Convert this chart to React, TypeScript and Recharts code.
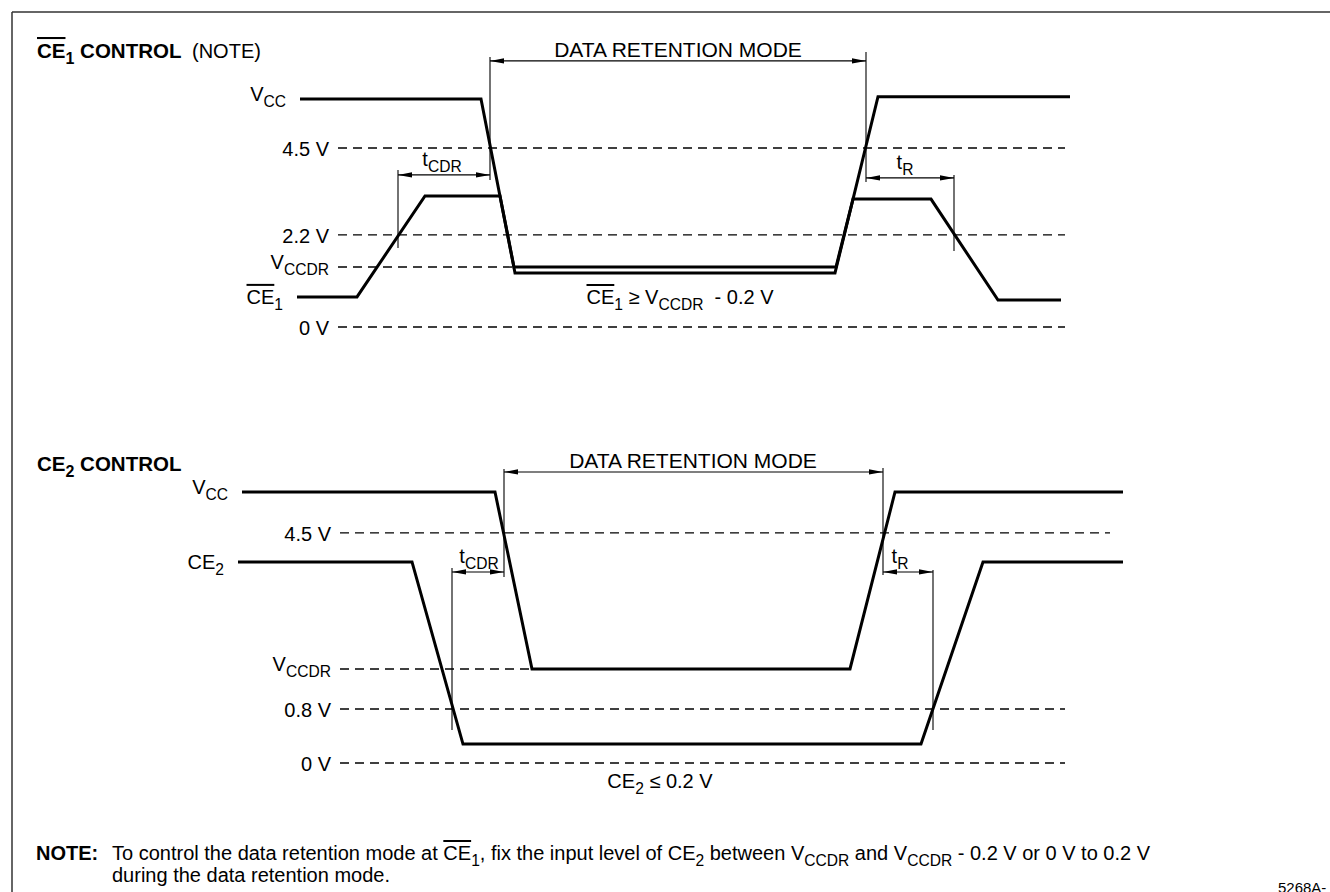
import React from "react";
import {
  ComposedChart,
  Line,
  XAxis,
  YAxis,
  ReferenceLine,
  ReferenceDot,
} from "recharts";

const FONT = '"Liberation Sans", Arial, Helvetica, sans-serif';

// x = time along the diagram (arbitrary units), v = level in diagram units (0 V = 0, VCC = 100)

// CE1 control (top panel)
const topVccT = [300, 481, 515, 835, 878, 1070];
const topVccV = [100, 100, 23.7, 23.7, 101, 101];
const topCe1T = [297, 357, 425, 500, 514, 836, 853, 931, 998, 1061];
const topCe1V = [13.2, 13.2, 57.5, 57.5, 26.3, 26.3, 56.1, 56.1, 11.8, 11.8];
const topLevelNames = ["4.5 V", "2.2 V", "V_{CCDR}", "0 V"];
const topLevelV = [78.5, 40.4, 26.3, 0];
const topLevelStart = [338, 338, 338, 338];
const topLevelEnd = [1065, 1065, 515, 1065];
const topGuideT = [398, 490, 866, 954];
const topGuideLo = [34.6, 64.5, 63.6, 33.3];
const topGuideHi = [68.9, 118.4, 120.6, 66.7];
const topArrowFrom = [398, 490, 866];
const topArrowTo = [490, 866, 954];
const topArrowV = [66.7, 116.7, 65.4];
const topArrowText = ["t_{CDR}", "DATA RETENTION MODE", "t_{R}"];
const topArrowTextT = [442, 678, 905];

// CE2 control (bottom panel)
const botVccT = [242, 495, 532, 850, 895, 1123];
const botVccV = [100, 100, 34.7, 34.7, 100, 100];
const botCe2T = [238, 412, 463, 921, 983, 1123];
const botCe2V = [74.2, 74.2, 7, 7, 74.2, 74.2];
const botLevelNames = ["4.5 V", "V_{CCDR}", "0.8 V", "0 V"];
const botLevelV = [84.9, 34.7, 19.9, 0];
const botLevelStart = [340, 340, 340, 340];
const botLevelEnd = [1110, 532, 1065, 1065];
const botGuideT = [452, 504, 883, 933];
const botGuideLo = [12.2, 68.6, 69.4, 12.2];
const botGuideHi = [72.0, 108.5, 108.9, 71.2];
const botArrowFrom = [452, 504, 883];
const botArrowTo = [504, 883, 933];
const botArrowV = [70.5, 107.4, 70.5];
const botArrowText = ["t_{CDR}", "DATA RETENTION MODE", "t_{R}"];
const botArrowTextT = [479, 693, 900];

// condition texts under the waveforms
const conditionText = ["~{CE}_{1} ≥ V_{CCDR}  - 0.2 V", "CE_{2} ≤ 0.2 V"];
const conditionT = [680, 660];

const W = 1330;
const H = 892;
// axis domains so both panels share one chart
const TOP_DOMAIN = [(327 - H) / 2.28, 327 / 2.28];
const BOT_DOMAIN = [(763 - H) / 2.71, 763 / 2.71];

const pts = (ts: number[], vs: number[]) => ts.map((t, i) => ({ t, v: vs[i] }));

// tiny markup: _{sub} subscript, ~{txt} overline
const Rich = ({
  x,
  y,
  s,
  size = 20,
  anchor = "start",
  bold = false,
}: {
  x: number;
  y: number;
  s: string;
  size?: number;
  anchor?: "start" | "middle" | "end";
  bold?: boolean;
}) => {
  const parts = s.split(/(_\{[^}]*\}|~\{[^}]*\})/).filter((p) => p !== "");
  const subDy = size * 0.3;
  let shift = 0;
  return (
    <text
      x={x}
      y={y}
      fontSize={size}
      fontFamily={FONT}
      fontWeight={bold ? "bold" : "normal"}
      textAnchor={anchor}
      fill="#000"
      style={{ whiteSpace: "pre" }}
    >
      {parts.map((p, i) => {
        if (p.startsWith("_{")) {
          const dy = subDy - shift;
          shift = subDy;
          return (
            <tspan key={i} dy={dy} fontSize={size * 0.78}>
              {p.slice(2, -1)}
            </tspan>
          );
        }
        const over = p.startsWith("~{");
        const dy = -shift;
        shift = 0;
        return (
          <tspan key={i} dy={dy} style={over ? { textDecoration: "overline" } : undefined}>
            {over ? p.slice(2, -1) : p}
          </tspan>
        );
      })}
    </text>
  );
};

const baseOffset = (s: string) => (s.startsWith("V_") ? 2 : s.includes("CE") ? 7 : 8);

const textAt = (s: string, anchor: "start" | "middle" | "end", dx: number, dy: number, size = 20) =>
  (p: any) => {
    const vb = p.viewBox || {};
    return <Rich x={vb.x + dx} y={vb.y + dy} s={s} anchor={anchor} size={size} />;
  };

const Panel = (axis: string, d: any) => {
  const els: React.ReactNode[] = [];
  d.levelV.forEach((v: number, i: number) => {
    els.push(
      <ReferenceLine
        key={`${axis}-lvl-${i}`}
        yAxisId={axis}
        segment={[
          { x: d.levelStart[i], y: v },
          { x: d.levelEnd[i], y: v },
        ]}
        stroke="#000"
        strokeWidth={1.4}
        strokeDasharray="9 6"
      />,
      <ReferenceDot
        key={`${axis}-lvlname-${i}`}
        yAxisId={axis}
        x={d.levelStart[i]}
        y={v}
        r={0}
        fill="none"
        stroke="none"
        label={textAt(d.levelNames[i], "end", -9, baseOffset(d.levelNames[i]))}
      />
    );
  });
  d.guideT.forEach((t: number, i: number) => {
    els.push(
      <ReferenceLine
        key={`${axis}-guide-${i}`}
        yAxisId={axis}
        segment={[
          { x: t, y: d.guideLo[i] },
          { x: t, y: d.guideHi[i] },
        ]}
        stroke="#000"
        strokeWidth={1.1}
      />
    );
  });
  d.arrowFrom.forEach((t: number, i: number) => {
    const big = d.arrowText[i].length > 8;
    els.push(
      <ReferenceLine
        key={`${axis}-arrow-${i}`}
        yAxisId={axis}
        segment={[
          { x: t, y: d.arrowV[i] },
          { x: d.arrowTo[i], y: d.arrowV[i] },
        ]}
        stroke="#000"
        strokeWidth={1.1}
        markerStart="url(#arr)"
        markerEnd="url(#arr)"
      />,
      <ReferenceDot
        key={`${axis}-arrowtxt-${i}`}
        yAxisId={axis}
        x={d.arrowTextT[i]}
        y={d.arrowV[i]}
        r={0}
        fill="none"
        stroke="none"
        label={textAt(d.arrowText[i], "middle", 0, big ? -4 : -9, big ? 21 : 20)}
      />
    );
  });
  return els;
};

const signalLabel = (axis: string, key: string, s: string, t: number, v: number) => (
  <ReferenceDot
    key={key}
    yAxisId={axis}
    x={t}
    y={v}
    r={0}
    fill="none"
    stroke="none"
    label={textAt(s, "end", -14, baseOffset(s))}
  />
);

export default function App() {
  const top = {
    levelNames: topLevelNames,
    levelV: topLevelV,
    levelStart: topLevelStart,
    levelEnd: topLevelEnd,
    guideT: topGuideT,
    guideLo: topGuideLo,
    guideHi: topGuideHi,
    arrowFrom: topArrowFrom,
    arrowTo: topArrowTo,
    arrowV: topArrowV,
    arrowText: topArrowText,
    arrowTextT: topArrowTextT,
  };
  const bot = {
    levelNames: botLevelNames,
    levelV: botLevelV,
    levelStart: botLevelStart,
    levelEnd: botLevelEnd,
    guideT: botGuideT,
    guideLo: botGuideLo,
    guideHi: botGuideHi,
    arrowFrom: botArrowFrom,
    arrowTo: botArrowTo,
    arrowV: botArrowV,
    arrowText: botArrowText,
    arrowTextT: botArrowTextT,
  };

  const lineProps = {
    type: "linear" as const,
    dataKey: "v",
    stroke: "#000",
    strokeWidth: 3,
    dot: false,
    activeDot: false,
    isAnimationActive: false,
  };

  return (
    <div
      style={{
        position: "absolute",
        left: 0,
        top: 0,
        width: W,
        height: H,
        background: "#fff",
        overflow: "hidden",
      }}
    >
      <style>{`html, body { margin: 0; overflow: hidden; }`}</style>
      <svg width={W} height={H} style={{ position: "absolute", left: 0, top: 0 }}>
        <defs>
          <marker
            id="arr"
            viewBox="0 0 14 6"
            refX="14"
            refY="3"
            markerWidth="14"
            markerHeight="6"
            markerUnits="userSpaceOnUse"
            orient="auto-start-reverse"
          >
            <path d="M0,0.4 L14,3 L0,5.6 z" fill="#000" />
          </marker>
        </defs>
        {/* frame */}
        <line x1={12} y1={12} x2={W} y2={12} stroke="#333" strokeWidth={1.5} />
        <line x1={12} y1={12} x2={12} y2={H} stroke="#333" strokeWidth={1.5} />
        {/* panel titles */}
        <Rich x={37} y={58} s="~{CE}_{1} CONTROL" bold size={20.5} />
        <Rich x={192} y={58} s="(NOTE)" size={20} />
        <Rich x={37} y={471} s="CE_{2} CONTROL" bold size={20.5} />
        {/* note */}
        <Rich x={36} y={860} s="NOTE:" bold size={20} />
        <text x={112} y={860} fontSize={20} fontFamily={FONT} fill="#000" style={{ whiteSpace: "pre" }}>
          <tspan>To control the data retention mode at </tspan>
          <tspan style={{ textDecoration: "overline" }}>CE</tspan>
          <tspan dy={6} fontSize={15.6}>1</tspan>
          <tspan dy={-6}>, fix the input level of CE</tspan>
          <tspan dy={6} fontSize={15.6}>2</tspan>
          <tspan dy={-6}> between V</tspan>
          <tspan dy={6} fontSize={15.6}>CCDR</tspan>
          <tspan dy={-6}> and V</tspan>
          <tspan dy={6} fontSize={15.6}>CCDR</tspan>
          <tspan dy={-6}> - 0.2 V or 0 V to 0.2 V</tspan>
        </text>
        <text x={112} y={882} fontSize={20} fontFamily={FONT} fill="#000">
          during the data retention mode.
        </text>
        <text x={1278} y={893} fontSize={15} fontFamily={FONT} fill="#000">
          5268A-
        </text>
      </svg>
      <div style={{ position: "absolute", left: 0, top: 0 }}>
        <ComposedChart
          width={W}
          height={H}
          margin={{ top: 0, right: 0, bottom: 0, left: 0 }}
          style={{ outline: "none" }}
        >
          <XAxis type="number" dataKey="t" domain={[0, W]} hide allowDataOverflow />
          <YAxis yAxisId="top" type="number" domain={TOP_DOMAIN} hide allowDataOverflow />
          <YAxis yAxisId="bot" type="number" domain={BOT_DOMAIN} hide allowDataOverflow />

          {Panel("top", top)}
          {Panel("bot", bot)}

          <Line yAxisId="top" data={pts(topVccT, topVccV)} {...lineProps} />
          <Line yAxisId="top" data={pts(topCe1T, topCe1V)} {...lineProps} />
          <Line yAxisId="bot" data={pts(botVccT, botVccV)} {...lineProps} />
          <Line yAxisId="bot" data={pts(botCe2T, botCe2V)} {...lineProps} />

          {signalLabel("top", "lbl-vcc-top", "V_{CC}", topVccT[0], topVccV[0])}
          {signalLabel("top", "lbl-ce1", "~{CE}_{1}", topCe1T[0], topCe1V[0])}
          {signalLabel("bot", "lbl-vcc-bot", "V_{CC}", botVccT[0], botVccV[0])}
          {signalLabel("bot", "lbl-ce2", "CE_{2}", botCe2T[0], botCe2V[0])}

          <ReferenceDot
            yAxisId="top"
            x={conditionT[0]}
            y={0}
            r={0}
            fill="none"
            stroke="none"
            label={textAt(conditionText[0], "middle", 0, -23)}
          />
          <ReferenceDot
            yAxisId="bot"
            x={conditionT[1]}
            y={0}
            r={0}
            fill="none"
            stroke="none"
            label={textAt(conditionText[1], "middle", 0, 25)}
          />
        </ComposedChart>
      </div>
    </div>
  );
}
